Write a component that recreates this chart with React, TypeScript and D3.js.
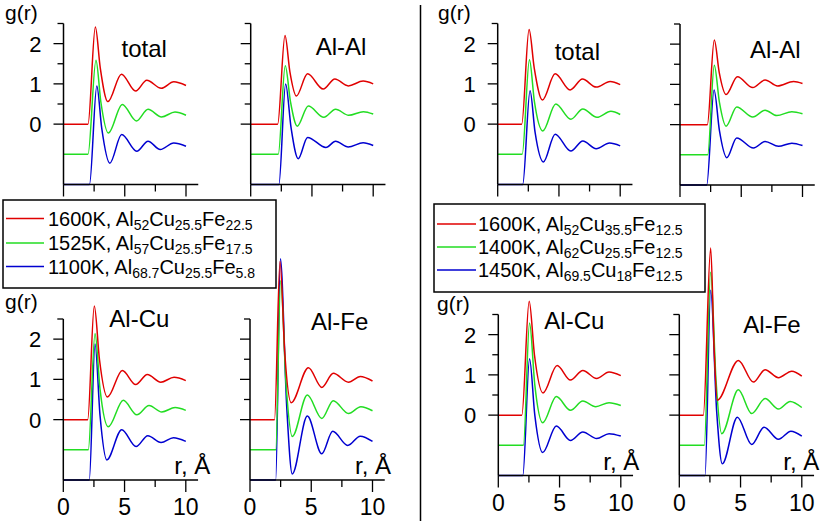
import * as d3 from "d3";

type Pt = [number, number];

// g(r) curves, each panel holds [1600K, second, third] series; plotted with vertical offsets
const OFFSETS = [0, -0.75, -1.5];
const COLORS = ["#e00000", "#22dd22", "#0000d0"];

const leftTotal: Pt[][] = [
  [[0, 0], [2.0, 0], [2.6, 2.41], [3.0, 1.4], [3.62, 0.56], [4.73, 1.24], [5.89, 0.82], [6.8, 1.09], [7.98, 0.89], [9.0, 1.05], [10, 0.96]],
  [[0, 0], [2.0, 0], [2.65, 2.34], [3.05, 1.3], [3.66, 0.53], [4.8, 1.24], [5.95, 0.83], [6.9, 1.12], [8.0, 0.93], [9.1, 1.05], [10, 0.97]],
  [[0, 0], [2.12, 0], [2.72, 2.45], [3.12, 1.4], [3.78, 0.53], [4.75, 1.24], [5.98, 0.825], [6.9, 1.075], [7.9, 0.87], [9.0, 1.03], [10, 0.95]],
];

const leftAlAl: Pt[][] = [
  [[0, 0], [2.2, 0], [2.8, 2.2], [3.2, 1.3], [3.73, 0.7], [4.64, 1.25], [5.92, 0.87], [6.87, 1.12], [7.96, 0.95], [9.18, 1.07], [10, 1.0]],
  [[0, 0], [2.25, 0], [2.82, 2.2], [3.25, 1.3], [3.8, 0.7], [4.7, 1.2], [5.97, 0.92], [6.93, 1.12], [8.0, 0.97], [9.2, 1.06], [10, 1.0]],
  [[0, 0], [2.3, 0], [2.85, 2.5], [3.3, 1.4], [3.88, 0.64], [4.64, 1.17], [6.14, 0.92], [6.93, 1.075], [7.96, 0.93], [9.18, 1.04], [10, 0.97]],
];

const leftAlCu: Pt[][] = [
  [[0, 0], [1.99, 0], [2.53, 2.82], [2.95, 1.5], [3.6, 0.56], [4.82, 1.22], [5.91, 0.87], [6.86, 1.12], [7.96, 0.93], [9.04, 1.05], [10, 0.97]],
  [[0, 0], [2.04, 0], [2.59, 2.89], [3.0, 1.5], [3.67, 0.57], [4.9, 1.23], [6.0, 0.87], [7.0, 1.1], [8.04, 0.94], [9.13, 1.05], [10, 0.98]],
  [[0, 0], [2.12, 0], [2.59, 3.38], [3.0, 1.6], [3.55, 0.5], [4.77, 1.25], [5.94, 0.83], [6.9, 1.1], [7.98, 0.93], [8.99, 1.05], [10, 0.96]],
];

const leftAlFe: Pt[][] = [
  [[0, 0], [2.0, 0], [2.45, 3.93], [2.85, 1.6], [3.36, 0.42], [4.77, 1.29], [5.86, 0.8], [6.8, 1.15], [8.04, 0.93], [9.0, 1.07], [10, 0.96]],
  [[0, 0], [2.1, 0], [2.5, 4.2], [2.95, 1.6], [3.45, 0.33], [4.68, 1.36], [5.86, 0.78], [6.8, 1.22], [8.04, 0.9], [9.05, 1.07], [10, 0.97]],
  [[0, 0], [2.1, 0], [2.48, 5.5], [3.0, 1.8], [3.45, 0.15], [4.68, 1.59], [5.86, 0.65], [6.75, 1.21], [7.98, 0.86], [9.0, 1.09], [10, 0.96]],
];

const rightTotal: Pt[][] = [
  [[0, 0], [1.96, 0], [2.56, 2.35], [2.98, 1.4], [3.65, 0.6], [4.69, 1.25], [5.91, 0.85], [6.92, 1.12], [8.04, 0.92], [9.18, 1.06], [10, 0.98]],
  [[0, 0], [2.0, 0], [2.59, 2.35], [3.0, 1.3], [3.68, 0.58], [4.74, 1.25], [5.97, 0.87], [6.95, 1.125], [8.1, 0.92], [9.24, 1.07], [10, 0.99]],
  [[0, 0], [2.04, 0], [2.64, 2.33], [3.05, 1.3], [3.73, 0.56], [4.69, 1.25], [5.97, 0.83], [6.95, 1.08], [8.04, 0.89], [9.13, 1.03], [10, 0.96]],
];

const rightAlAl: Pt[][] = [
  [[0, 0], [2.23, 0], [2.8, 2.1], [3.2, 1.3], [3.76, 0.75], [4.69, 1.19], [5.94, 0.92], [6.95, 1.11], [7.96, 0.96], [9.27, 1.07], [10, 1.02]],
  [[0, 0], [2.26, 0], [2.8, 2.225], [3.22, 1.3], [3.76, 0.71], [4.63, 1.19], [5.94, 0.94], [6.95, 1.11], [7.9, 0.975], [9.13, 1.07], [10, 1.02]],
  [[0, 0], [2.18, 0], [2.78, 2.36], [3.22, 1.35], [3.82, 0.68], [4.63, 1.17], [6.0, 0.92], [6.95, 1.08], [8.04, 0.96], [9.13, 1.04], [10, 0.98]],
];

const rightAlCu: Pt[][] = [
  [[0, 0], [1.92, 0], [2.52, 2.83], [2.95, 1.5], [3.65, 0.55], [4.8, 1.23], [5.89, 0.87], [6.9, 1.11], [8.03, 0.91], [9.04, 1.07], [10, 0.98]],
  [[0, 0], [2.05, 0], [2.55, 3.04], [2.98, 1.5], [3.62, 0.56], [4.74, 1.21], [5.89, 0.87], [6.9, 1.1], [7.95, 0.96], [9.04, 1.06], [10, 0.99]],
  [[0, 0], [2.0, 0], [2.55, 2.9], [2.98, 1.5], [3.62, 0.57], [4.74, 1.23], [5.89, 0.87], [6.9, 1.08], [8.03, 0.92], [9.04, 1.04], [10, 0.98]],
];

const rightAlFe: Pt[][] = [
  [[0, 0], [1.96, 0], [2.56, 4.15], [2.85, 1.6], [3.1, 0.37], [4.82, 1.36], [6.05, 0.82], [7.0, 1.13], [8.09, 0.93], [9.18, 1.09], [10, 0.97]],
  [[0, 0], [2.04, 0], [2.56, 4.3], [3.0, 1.6], [3.46, 0.29], [4.82, 1.38], [5.91, 0.79], [7.0, 1.16], [8.09, 0.9], [9.05, 1.09], [10, 0.94]],
  [[0, 0], [2.1, 0], [2.56, 4.6], [3.05, 1.6], [3.51, 0.29], [4.74, 1.45], [5.91, 0.77], [6.92, 1.2], [8.09, 0.9], [9.11, 1.1], [10, 0.98]],
];

const Y_MAJOR = [0, 1, 2];
const Y_MINOR = [0.5, 1.5, 2.5];
const X_MAJOR = [0, 5, 10];
const X_MINOR = [2.5, 7.5];

type Sub = [string, string];
const leftLegend: [string, Sub[]][] = [
  ["1600K, ", [["Al", "52"], ["Cu", "25.5"], ["Fe", "22.5"]]],
  ["1525K, ", [["Al", "57"], ["Cu", "25.5"], ["Fe", "17.5"]]],
  ["1100K, ", [["Al", "68.7"], ["Cu", "25.5"], ["Fe", "5.8"]]],
];
const rightLegend: [string, Sub[]][] = [
  ["1600K, ", [["Al", "52"], ["Cu", "35.5"], ["Fe", "12.5"]]],
  ["1400K, ", [["Al", "62"], ["Cu", "25.5"], ["Fe", "12.5"]]],
  ["1450K, ", [["Al", "69.5"], ["Cu", "18"], ["Fe", "12.5"]]],
];

const FONT = "'Liberation Sans', Arial, sans-serif";
const W = 830;
const H = 521;
const PANEL_H = 161;
const R_SPAN = 122.5; // pixels for r = 0..10

interface PanelSpec {
  data: Pt[][];
  title: string;
  x0: number;
  yTop: number;
  yLabels: boolean;
  xLabels: boolean;
  titleX: number;
  titleY: number;
  rLabelX?: number;
}

const panels: PanelSpec[] = [
  { data: leftTotal, title: "total", x0: 63.5, yTop: 23.5, yLabels: true, xLabels: false, titleX: 58, titleY: -67 },
  { data: leftAlAl, title: "Al-Al", x0: 250.7, yTop: 23.5, yLabels: false, xLabels: false, titleX: 65, titleY: -69 },
  { data: leftAlCu, title: "Al-Cu", x0: 63.3, yTop: 319, yLabels: true, xLabels: true, titleX: 46, titleY: -93, rLabelX: 111 },
  { data: leftAlFe, title: "Al-Fe", x0: 250, yTop: 319, yLabels: false, xLabels: true, titleX: 61, titleY: -90, rLabelX: 105 },
  { data: rightTotal, title: "total", x0: 497.7, yTop: 23.5, yLabels: true, xLabels: false, titleX: 57, titleY: -64 },
  { data: rightAlAl, title: "Al-Al", x0: 680, yTop: 24, yLabels: false, xLabels: false, titleX: 70, titleY: -67 },
  { data: rightAlCu, title: "Al-Cu", x0: 498.3, yTop: 314.5, yLabels: true, xLabels: true, titleX: 46, titleY: -86, rLabelX: 105 },
  { data: rightAlFe, title: "Al-Fe", x0: 679.3, yTop: 314.5, yLabels: false, xLabels: true, titleX: 64, titleY: -82, rLabelX: 104 },
];

function Panel({ p }: { p: PanelSpec }) {
  const x = d3.scaleLinear().domain([0, 10]).range([p.x0, p.x0 + R_SPAN]);
  const y = d3.scaleLinear().domain([-1.5, 2.5]).range([p.yTop + PANEL_H, p.yTop]);
  const line = d3
    .line<Pt>()
    .x((d) => x(d[0]))
    .y((d) => y(d[1]))
    .curve(d3.curveMonotoneX);
  const yBase = y(-1.5);
  const order = [2, 1, 0];

  return (
    <g>
      {order.map((i) => (
        <path
          key={i}
          d={line(p.data[i].map((d) => [d[0], d[1] + OFFSETS[i]] as Pt)) || ""}
          fill="none"
          stroke={COLORS[i]}
          strokeWidth={1.5}
        />
      ))}
      <line x1={x(0)} x2={x(0)} y1={y(2.5)} y2={yBase} stroke="#000" strokeWidth={1.5} />
      <line x1={x(0)} x2={x(11)} y1={yBase} y2={yBase} stroke="#000" strokeWidth={1.5} />
      {Y_MAJOR.map((t) => (
        <line key={"ym" + t} x1={x(0) - 10} x2={x(0)} y1={y(t)} y2={y(t)} stroke="#000" strokeWidth={1.3} />
      ))}
      {Y_MINOR.map((t) => (
        <line key={"yn" + t} x1={x(0) - 6} x2={x(0)} y1={y(t)} y2={y(t)} stroke="#000" strokeWidth={1.3} />
      ))}
      {X_MAJOR.map((t) => (
        <line key={"xm" + t} x1={x(t)} x2={x(t)} y1={yBase} y2={yBase + 12} stroke="#000" strokeWidth={1.3} />
      ))}
      {X_MINOR.map((t) => (
        <line key={"xn" + t} x1={x(t)} x2={x(t)} y1={yBase} y2={yBase + 7} stroke="#000" strokeWidth={1.3} />
      ))}
      {p.yLabels &&
        Y_MAJOR.map((t) => (
          <text key={"yl" + t} x={x(0) - 22} y={y(t)} dy="0.36em" textAnchor="end" fontSize={22}>
            {t}
          </text>
        ))}
      {p.xLabels &&
        X_MAJOR.map((t) => (
          <text key={"xl" + t} x={x(t)} y={yBase + 35} textAnchor="middle" fontSize={23}>
            {t}
          </text>
        ))}
      <text x={p.x0 + p.titleX} y={y(0) + p.titleY} fontSize={24}>
        {p.title}
      </text>
      {p.rLabelX !== undefined && (
        <text x={p.x0 + p.rLabelX} y={yBase - 6} fontSize={24}>
          r, Å
        </text>
      )}
    </g>
  );
}

function Legend({
  items,
  box,
  lineX,
  textX,
  rows,
}: {
  items: [string, Sub[]][];
  box: [number, number, number, number];
  lineX: [number, number];
  textX: number;
  rows: number[];
}) {
  return (
    <g>
      <rect x={box[0]} y={box[1]} width={box[2]} height={box[3]} fill="#fff" stroke="#000" strokeWidth={1.5} />
      {items.map(([temp, parts], i) => (
        <g key={i}>
          <line x1={lineX[0]} x2={lineX[1]} y1={rows[i]} y2={rows[i]} stroke={COLORS[i]} strokeWidth={1.5} />
          <text x={textX} y={rows[i] + 7} fontSize={20}>
            <tspan>{temp}</tspan>
            {parts.map(([el, n], j) => [
              <tspan key={"e" + j} dy={j === 0 ? 0 : -4}>
                {el}
              </tspan>,
              <tspan key={"n" + j} dy={4} fontSize={14}>
                {n}
              </tspan>,
            ])}
          </text>
        </g>
      ))}
    </g>
  );
}

export default function App() {
  return (
    <svg width={W} height={H} style={{ position: "absolute", left: 0, top: 0, background: "#fff" }} fontFamily={FONT}>
      <rect width={W} height={H} fill="#fff" />
      {panels.map((p, i) => (
        <Panel key={i} p={p} />
      ))}
      <line x1={420.5} x2={420.5} y1={5} y2={H} stroke="#000" strokeWidth={1.5} />
      <text x={5} y={20} fontSize={21}>g(r)</text>
      <text x={5} y={309} fontSize={21}>g(r)</text>
      <text x={438} y={20} fontSize={21}>g(r)</text>
      <text x={437} y={311} fontSize={21}>g(r)</text>
      <Legend items={leftLegend} box={[3, 200, 273, 88]} lineX={[6, 44]} textX={48} rows={[218.5, 243, 266.5]} />
      <Legend items={rightLegend} box={[434, 204, 271, 88]} lineX={[437, 476]} textX={478} rows={[224, 247, 270]} />
    </svg>
  );
}
